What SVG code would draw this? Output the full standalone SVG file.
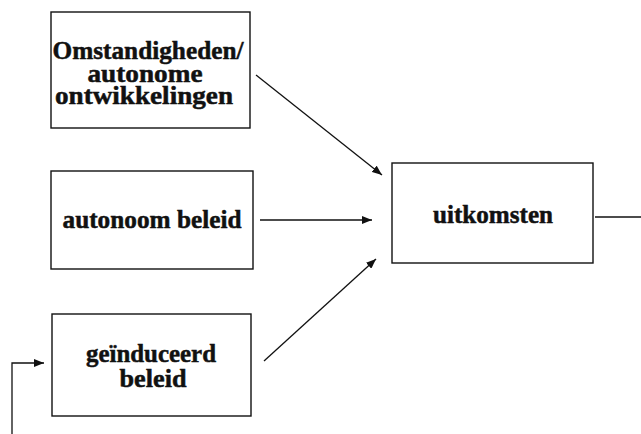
<svg xmlns="http://www.w3.org/2000/svg" width="641" height="434" viewBox="0 0 641 434">
<style>
.box{fill:#fff;stroke:#111;stroke-width:1.4}
.t{font-family:"Liberation Serif","Times New Roman",serif;font-weight:bold;font-size:26px;fill:#111;stroke:#111;stroke-width:0.5;text-anchor:middle}
.c{fill:none;stroke:#111;stroke-width:1.3}
</style>
<defs>
<marker id="ah" viewBox="0 0 10 8" refX="10" refY="4" markerWidth="10" markerHeight="8" markerUnits="userSpaceOnUse" orient="auto">
<path d="M0,0 L10,4 L0,8 Z" fill="#111"/>
</marker>
</defs>
<rect width="641" height="434" fill="#fff"/>
<g id="node-omstandigheden">
<rect class="box" x="51" y="12" width="199" height="116"/>
<text class="t" x="148" y="59" textLength="191" lengthAdjust="spacingAndGlyphs">Omstandigheden/</text>
<text class="t" x="145" y="82" textLength="115" lengthAdjust="spacingAndGlyphs">autonome</text>
<text class="t" x="144" y="104" textLength="178" lengthAdjust="spacingAndGlyphs">ontwikkelingen</text>
</g>
<g id="node-autonoom">
<rect class="box" x="51" y="171" width="202" height="98"/>
<text class="t" x="152" y="228" textLength="179" lengthAdjust="spacingAndGlyphs">autonoom beleid</text>
</g>
<g id="node-geinduceerd">
<rect class="box" x="52" y="314" width="199" height="102"/>
<text class="t" x="151" y="362" textLength="130" lengthAdjust="spacingAndGlyphs">geïnduceerd</text>
<text class="t" x="153" y="387" textLength="67" lengthAdjust="spacingAndGlyphs">beleid</text>
</g>
<g id="node-uitkomsten">
<rect class="box" x="392" y="163" width="201" height="100"/>
<text class="t" x="493" y="223" textLength="120" lengthAdjust="spacingAndGlyphs">uitkomsten</text>
</g>
<g id="connectors">
<line class="c" x1="256" y1="75" x2="382" y2="175" marker-end="url(#ah)"/>
<line class="c" x1="260" y1="220" x2="372" y2="220" marker-end="url(#ah)"/>
<line class="c" x1="264" y1="361" x2="376" y2="259" marker-end="url(#ah)"/>
<line class="c" x1="595" y1="217" x2="641" y2="217" stroke="#555"/>
<polyline class="c" points="12,434 12,363 44,363" marker-end="url(#ah)"/>
</g>
</svg>
